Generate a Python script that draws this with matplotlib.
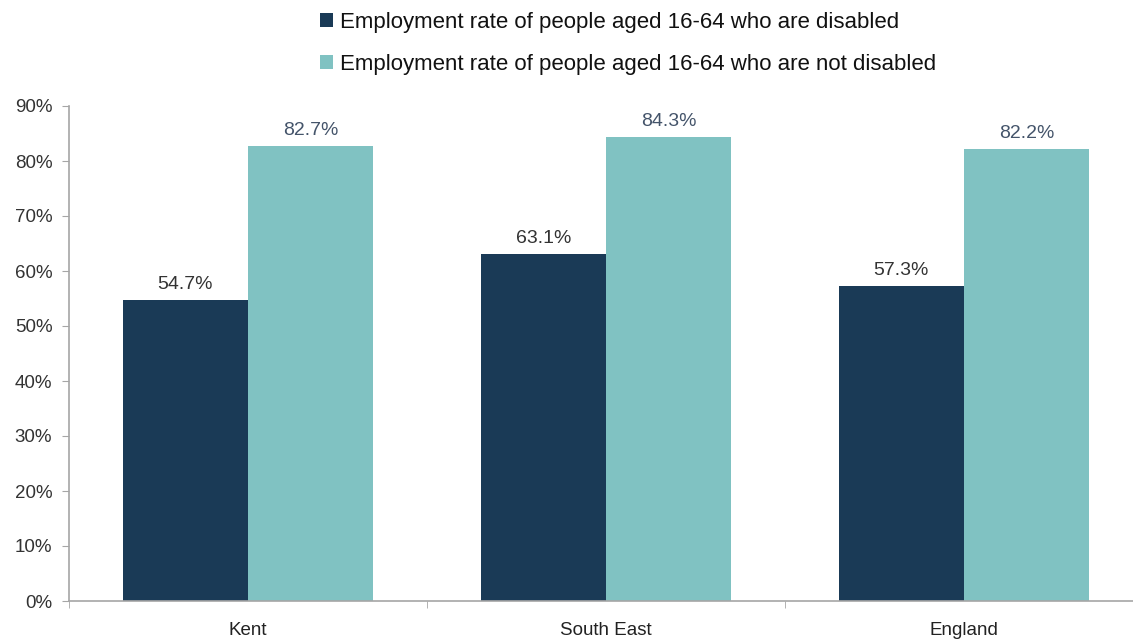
import matplotlib.pyplot as plt
import matplotlib.ticker as mticker
import numpy as np

categories = ['Kent', 'South East', 'England']
disabled = [54.7, 63.1, 57.3]
not_disabled = [82.7, 84.3, 82.2]
labels = ['Employment rate of people aged 16-64 who are disabled',
          'Employment rate of people aged 16-64 who are not disabled']

plt.rcParams['font.family'] = ['Liberation Sans', 'DejaVu Sans']

dark = '#1a3a56'
light = '#80c2c2'

fig = plt.figure(figsize=(11.33, 6.39), dpi=100)
ax = fig.add_axes([69/1133, 38/639, 1074/1133, 495/639])

x = np.arange(len(categories))
w = 0.35
b1 = ax.bar(x - w/2, disabled, w, color=dark, label=labels[0])
b2 = ax.bar(x + w/2, not_disabled, w, color=light, label=labels[1])

# value labels
for rect, v in zip(b1, disabled):
    ax.text(rect.get_x() + rect.get_width()/2, v + 1.3, f'{v:.1f}%',
            ha='center', va='bottom', fontsize=14, color='#333333')
for rect, v in zip(b2, not_disabled):
    ax.text(rect.get_x() + rect.get_width()/2, v + 1.3, f'{v:.1f}%',
            ha='center', va='bottom', fontsize=14, color='#44546a')

ax.set_xlim(-0.5, 2.5)
ax.set_ylim(0, 90)
ax.yaxis.set_major_locator(mticker.MultipleLocator(10))
ax.yaxis.set_major_formatter(mticker.FuncFormatter(lambda v, p: f'{v:.0f}%'))
ax.set_xticks(x)
ax.set_xticklabels(categories)
ax.set_xticks([-0.5, 0.5, 1.5, 2.5], minor=True)
ax.tick_params(axis='x', which='major', length=0, labelsize=13.5, pad=15, labelcolor='#222222')
ax.tick_params(axis='x', which='minor', length=5, color='#a6a6a6')
ax.tick_params(axis='y', length=5, color='#a6a6a6', labelsize=13.5, pad=7, labelcolor='#333333')

for s in ['top', 'right']:
    ax.spines[s].set_visible(False)
for s in ['left', 'bottom']:
    ax.spines[s].set_color('#a6a6a6')
    ax.spines[s].set_linewidth(1.2)

fig.legend(loc='upper center', bbox_to_anchor=(0.554, 1.013), ncol=1, frameon=False,
           fontsize=16, handlelength=0.6, handleheight=0.6, handletextpad=0.3,
           labelspacing=0.96, labelcolor='#111111')

fig.savefig('out.png', dpi=100)
